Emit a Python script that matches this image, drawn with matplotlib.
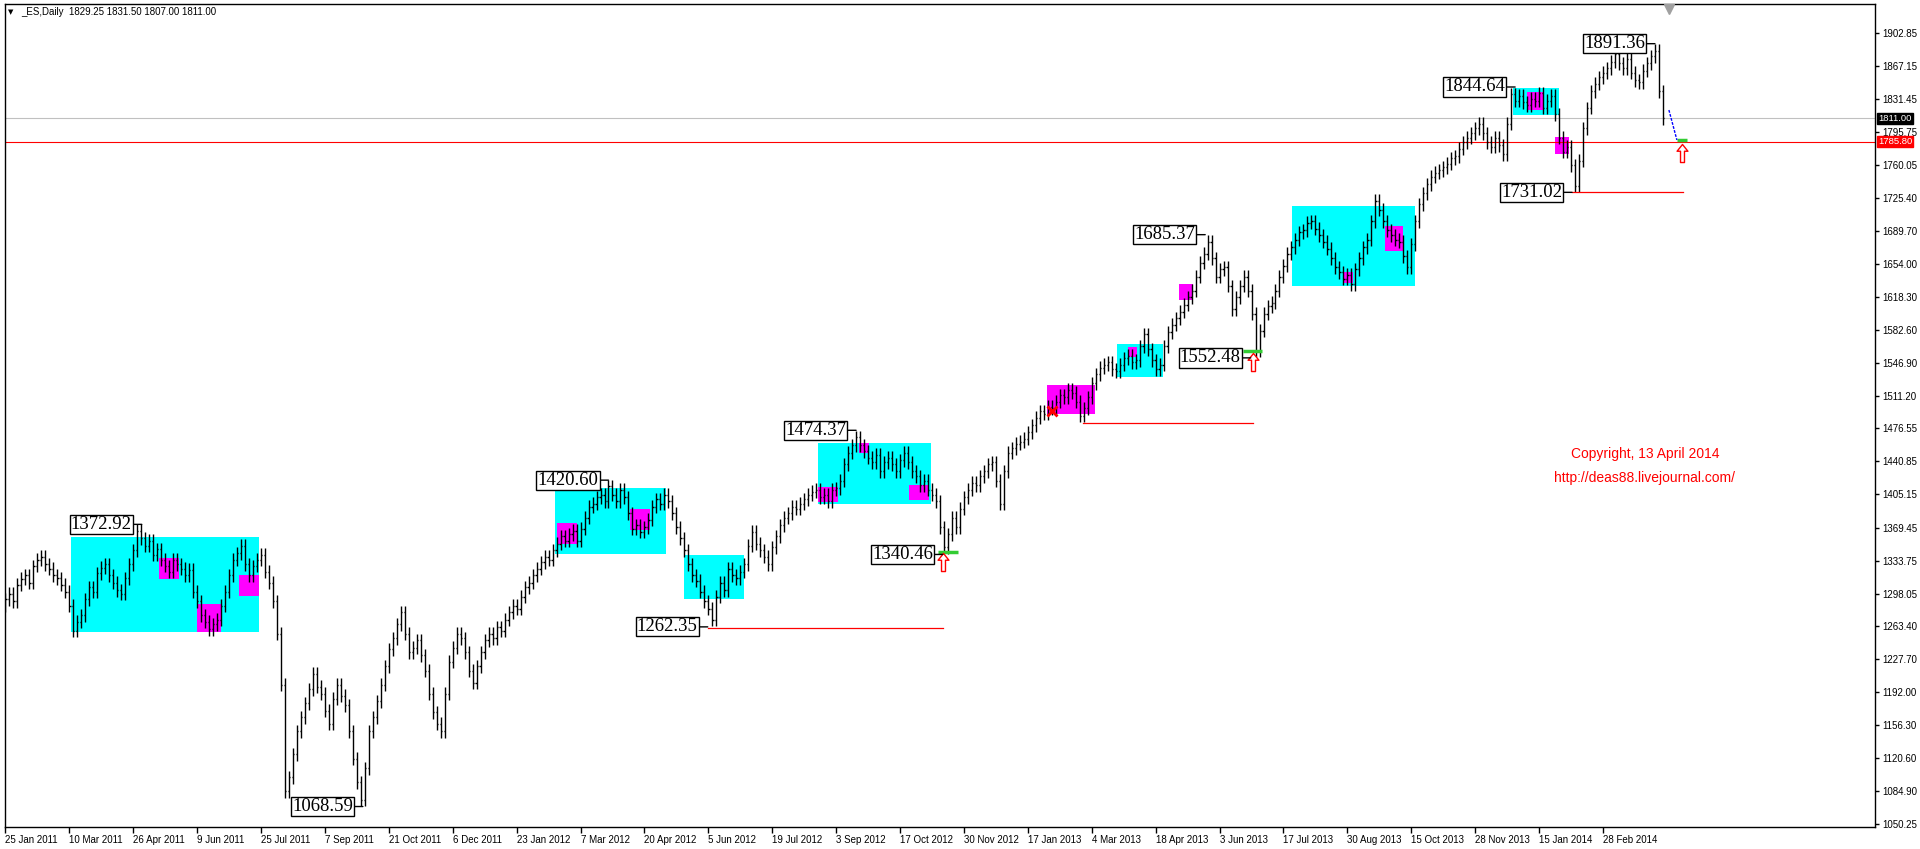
import numpy as np
import matplotlib
matplotlib.use("Agg")
import matplotlib.pyplot as plt
from matplotlib.collections import LineCollection
from matplotlib.patches import Rectangle
from matplotlib.path import Path
import matplotlib.transforms as mtransforms

# --- DATA ---
# closes, one value every 2nd daily bar (bar 0 = 25 Jan 2011)
closes_2011 = [1285, 1292, 1298, 1290, 1308, 1314, 1318, 1310, 1328, 1335, 1338, 1330, 1325, 1318, 1315, 1308,
               1300, 1285, 1258, 1268, 1275, 1292, 1305, 1300, 1320, 1326, 1330, 1318, 1310, 1302, 1298, 1315,
               1330, 1345, 1366, 1358, 1350, 1355, 1340, 1346, 1335, 1328, 1322, 1335, 1330, 1325, 1318, 1324,
               1300, 1290, 1275, 1268, 1260, 1265, 1270, 1285, 1300, 1318, 1335, 1342, 1350, 1330, 1318, 1328,
               1335, 1340, 1322, 1310, 1290, 1255, 1200, 1085, 1100, 1125, 1150, 1165, 1180, 1195, 1212, 1198,
               1190, 1172, 1158, 1185, 1200, 1188, 1178, 1150, 1120, 1095, 1076, 1110, 1150, 1165, 1182, 1200,
               1220, 1238, 1250, 1265, 1278, 1255, 1235, 1240, 1248, 1232, 1215, 1190, 1170, 1158, 1150, 1190,
               1225, 1240, 1255, 1250, 1235, 1215, 1202, 1220, 1235, 1248, 1255, 1250, 1262, 1258, 1270, 1278]
closes_2012 = [1285, 1282, 1295, 1305, 1310, 1318, 1325, 1332, 1338, 1335, 1345, 1352, 1360, 1355, 1362, 1366,
               1355, 1368, 1380, 1392, 1395, 1402, 1405, 1398, 1414, 1405, 1398, 1410, 1402, 1385, 1368, 1372,
               1365, 1370, 1378, 1392, 1400, 1395, 1405, 1398, 1385, 1370, 1358, 1345, 1330, 1318, 1312, 1300,
               1290, 1282, 1270, 1295, 1310, 1302, 1325, 1318, 1315, 1322, 1330, 1350, 1365, 1352, 1345, 1338,
               1330, 1348, 1360, 1372, 1380, 1385, 1392, 1390, 1395, 1400, 1405, 1408, 1410, 1402, 1405, 1398,
               1410, 1412, 1420, 1438, 1450, 1458, 1467, 1458, 1452, 1445, 1440, 1448, 1430, 1440, 1445, 1438,
               1430, 1442, 1450, 1440, 1430, 1425, 1415, 1420, 1410, 1405, 1398, 1370, 1348, 1362, 1380, 1370,
               1390, 1402, 1410, 1418, 1415, 1425, 1430, 1438, 1440, 1420, 1395, 1430, 1450, 1455, 1460, 1462]
closes_2013 = [1465, 1472, 1480, 1488, 1495, 1492, 1500, 1498, 1505, 1512, 1510, 1518, 1515, 1505, 1490, 1498,
               1510, 1525, 1535, 1542, 1545, 1548, 1540, 1538, 1545, 1552, 1555, 1548, 1550, 1565, 1578, 1562,
               1550, 1540, 1545, 1565, 1580, 1588, 1595, 1602, 1610, 1618, 1625, 1640, 1655, 1665, 1678, 1660,
               1640, 1648, 1650, 1630, 1605, 1618, 1630, 1640, 1625, 1600, 1560, 1582, 1600, 1608, 1612, 1625,
               1640, 1652, 1665, 1672, 1680, 1688, 1690, 1698, 1700, 1692, 1685, 1678, 1670, 1660, 1650, 1645,
               1638, 1642, 1632, 1648, 1660, 1672, 1680, 1700, 1722, 1712, 1700, 1690, 1685, 1680, 1678, 1662,
               1650, 1675, 1700, 1718, 1730, 1740, 1748, 1752, 1755, 1758, 1762, 1768, 1770, 1778, 1785, 1790,
               1795, 1800, 1805, 1795, 1785, 1780, 1790, 1782, 1772, 1805, 1837, 1830, 1835, 1828, 1825, 1832]
closes_2014 = [1830, 1838, 1822, 1830, 1835, 1815, 1790, 1775, 1780, 1760, 1738, 1765, 1800, 1822, 1840, 1848,
               1855, 1860, 1865, 1872, 1880, 1870, 1865, 1875, 1860, 1852, 1850, 1862, 1870, 1878, 1884, 1840,
               1811]
first_bar = -2
bar_step = 2

tick_labels = ["25 Jan 2011", "10 Mar 2011", "26 Apr 2011", "9 Jun 2011", "25 Jul 2011", "7 Sep 2011",
               "21 Oct 2011", "6 Dec 2011", "23 Jan 2012", "7 Mar 2012", "20 Apr 2012", "5 Jun 2012",
               "19 Jul 2012", "3 Sep 2012", "17 Oct 2012", "30 Nov 2012", "17 Jan 2013", "4 Mar 2013",
               "18 Apr 2013", "3 Jun 2013", "17 Jul 2013", "30 Aug 2013", "15 Oct 2013", "28 Nov 2013",
               "15 Jan 2014", "28 Feb 2014"]
bars_per_label = 32

price_ticks = [1902.85, 1867.15, 1831.45, 1795.75, 1760.05, 1725.40, 1689.70, 1654.00, 1618.30,
               1582.60, 1546.90, 1511.20, 1476.55, 1440.85, 1405.15, 1369.45, 1333.75, 1298.05,
               1263.40, 1227.70, 1192.00, 1156.30, 1120.60, 1084.90, 1050.25]

# zones: (from bar, to bar, low price, high price)
cyan_zones = [(33, 127, 1256.8, 1359.3), (275, 331, 1341.0, 1412.1), (340, 370, 1292.4, 1339.9),
              (407, 463.5, 1394.9, 1460.7), (556.5, 579.5, 1531.8, 1567.4), (644.5, 706, 1630.0, 1716.3),
              (755, 778, 1814.4, 1843.5)]
magenta_zones = [(77, 87, 1314.0, 1336.7), (96, 108, 1256.8, 1287.0), (117, 127, 1295.6, 1318.3),
                 (276, 286, 1351.8, 1374.4), (313, 323, 1366.8, 1389.5), (407, 417, 1397.0, 1413.2),
                 (427.5, 432.5, 1449.9, 1460.7), (452.5, 462.5, 1399.2, 1415.4), (521.5, 545.5, 1491.9, 1523.2),
                 (562, 566.5, 1553.4, 1564.2), (587.5, 594.5, 1614.9, 1632.1), (670, 675, 1633.2, 1645.0),
                 (691, 700, 1667.7, 1694.7), (762, 770, 1819.8, 1839.2), (776, 783, 1772.4, 1790.7)]

# swing extremes with their labels
swing_bars = [68.3, 179, 302, 351.7, 426, 469.4, 600.8, 623.6, 756, 826, 784.5]
swing_prices = [1372.92, 1068.59, 1420.60, 1262.35, 1474.37, 1340.46, 1685.37, 1552.48, 1844.64, 1891.36, 1731.02]

# red support lines: (from bar, to bar, price)
support_lines = [(351.7, 469.5, 1261.5), (539.6, 624.7, 1482.2), (784.5, 840, 1731.02)]
# green signal dashes and red arrows
signal_lines = [(467, 477, 1343.1), (619.7, 629.2, 1559.9), (837, 842, 1787.5)]
arrow_bars = [469.5, 624.7, 839.5]
arrow_prices = [1332.3, 1547.5, 1773.4]
cross_bar, cross_price = 524, 1495
forecast_bars = [833, 837]
forecast_prices = [1819.8, 1787.5]

last_price = 1811.00
target_price = 1785.80
header = "_ES,Daily  1829.25 1831.50 1807.00 1811.00"
note_lines = ["Copyright, 13 April 2014", "http://deas88.livejournal.com/"]

# --- PLOT ---
W, H = 1920, 849
fig = plt.figure(figsize=(W / 100, H / 100), dpi=100)
ax = fig.add_axes([4.5 / W, 22 / H, (1875 - 4.5) / W, (827 - 3.5) / H])
ax.set_xlim(-0.45, 936.2)
ax.set_ylim(1046.5, 1934.7)

for x0, x1, lo, hi in cyan_zones:
    ax.add_patch(Rectangle((x0, lo), x1 - x0, hi - lo, color="#00ffff", lw=0, zorder=1))
for x0, x1, lo, hi in magenta_zones:
    ax.add_patch(Rectangle((x0, lo), x1 - x0, hi - lo, color="#ff00ff", lw=0, zorder=2))

# OHLC-style bars: open = previous close, range padded a little
closes = closes_2011 + closes_2012 + closes_2013 + closes_2014
pad = 7
segs = []
for k, c in enumerate(closes):
    x = first_bar + k * bar_step
    prev = closes[k - 1] if k else c
    lo, hi = min(prev, c) - pad, max(prev, c) + pad
    segs.append([(x, lo), (x, hi)])
    segs.append([(x - 0.6, prev), (x, prev)])
    segs.append([(x, c), (x + 0.6, c)])
ax.add_collection(LineCollection(segs, colors="black", linewidths=1.0, zorder=3))

# price level lines
ax.axhline(last_price, color="#c0c0c0", lw=0.8, zorder=2.5)
ax.axhline(target_price, color="#ff0000", lw=0.8, zorder=2.5)

for x0, x1, p in support_lines:
    ax.plot([x0, x1], [p, p], color="#ff0000", lw=0.9, zorder=3)
for x0, x1, p in signal_lines:
    ax.plot([x0, x1], [p, p], color="#33cc33", lw=2.5, zorder=4, solid_capstyle="butt")
ax.plot(forecast_bars, forecast_prices, color="#0000ff", lw=1, ls=(0, (2, 1)), zorder=4)

arrow = Path([(0, 1), (0.6, 0.25), (0.22, 0.25), (0.22, -1), (-0.22, -1), (-0.22, 0.25), (-0.6, 0.25), (0, 1)],
             [Path.MOVETO] + [Path.LINETO] * 6 + [Path.CLOSEPOLY])
ax.plot(arrow_bars, arrow_prices, ls="none", marker=arrow, markersize=13, mfc="white", mec="#ff0000",
        mew=1, zorder=5)
ax.plot(cross_bar, cross_price, ls="none", marker="x", markersize=7, mec="#ff0000", mew=2, zorder=5)

for b, p in zip(swing_bars, swing_prices):
    ax.annotate(f"{p:.2f}", xy=(b, p), xytext=(-10, 0), textcoords="offset pixels",
                ha="right", va="center", fontsize=13.5, family="Liberation Serif", zorder=6,
                bbox=dict(boxstyle="square,pad=0.06", fc="white", ec="black", lw=1),
                arrowprops=dict(arrowstyle="-", color="black", lw=1, shrinkA=0, shrinkB=0))

# copyright note (placed in pixel terms below the price scale)
ax.text(821, 1449, note_lines[0], color="#ff0000", fontsize=10,
        family="Liberation Sans", ha="center", va="center")
ax.text(821, 1423, note_lines[1], color="#ff0000", fontsize=10,
        family="Liberation Sans", ha="center", va="center")

# chart shift marker
ax.plot(833, 0.993, marker="v", markersize=7, color="#a0a0a0", transform=ax.get_xaxis_transform(),
        clip_on=False, zorder=6)

# axes
ax.yaxis.tick_right()
ax.set_yticks(price_ticks)
ax.set_yticklabels([f"{v:.2f}" for v in price_ticks])
ax.set_xticks([i * bars_per_label for i in range(len(tick_labels))])
ax.set_xticklabels(tick_labels)
for lab in ax.get_xticklabels():
    lab.set_horizontalalignment("left")
ax.tick_params(axis="y", length=3, width=1, pad=2, labelsize=7, direction="out")
ax.tick_params(axis="x", length=4, width=1, pad=2, labelsize=7, direction="out")
for lab in ax.get_xticklabels() + ax.get_yticklabels():
    lab.set_family("Liberation Sans")
for s in ax.spines.values():
    s.set_color("black")
    s.set_linewidth(1)

blend = mtransforms.blended_transform_factory(ax.transAxes, ax.transData)
ax.text(1.0016, last_price, f"{last_price:.2f}", transform=blend, color="white", fontsize=6.8,
        family="Liberation Sans", va="center", ha="left", zorder=7,
        bbox=dict(boxstyle="square,pad=0.12", fc="black", ec="black"))
ax.text(1.0016, target_price, f"{target_price:.2f}", transform=blend, color="white", fontsize=6.8,
        family="Liberation Sans", va="center", ha="left", zorder=7,
        bbox=dict(boxstyle="square,pad=0.12", fc="#ff0000", ec="#ff0000"))

fig.text(8 / W, 1 - 12 / H, "▼", fontsize=5, family="DejaVu Sans", va="center", ha="left")
fig.text(21 / W, 1 - 12 / H, header, fontsize=7, family="Liberation Sans", va="center", ha="left")

fig.savefig("out.png", dpi=100)
